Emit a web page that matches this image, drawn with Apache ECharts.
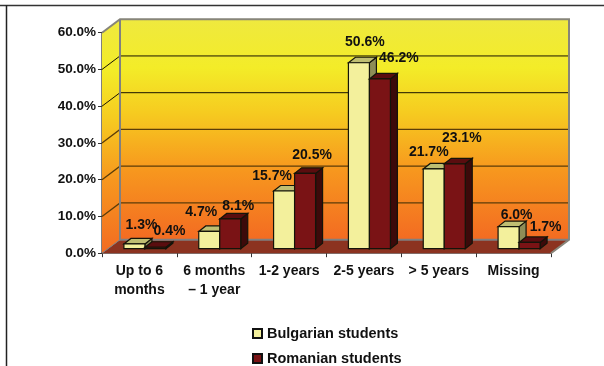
<!DOCTYPE html>
<html>
<head>
<meta charset="utf-8">
<style>html,body{margin:0;padding:0;background:#fff}#c{width:604px;height:366px}</style>
<script src="https://cdn.jsdelivr.net/npm/echarts@6/dist/echarts.min.js"></script>
</head>
<body>
<div id="c"></div>
<script>
const categories = ['Up to 6\nmonths', '6 months\n– 1 year', '1-2 years', '2-5 years', '> 5 years', 'Missing'];
const bulgarian = [1.3, 4.7, 15.7, 50.6, 21.7, 6.0];
const romanian = [0.4, 8.1, 20.5, 46.2, 23.1, 1.7];
const yTicks = [0, 10, 20, 30, 40, 50, 60];

// Hand placement of the value labels relative to each bar's top centre.
const bulgarianLabelShift = [[7, -19], [-8, -19], [-12, -15], [6, -21], [-5, -17], [8, -12]];
const romanianLabelShift = [[14, -16], [8, -13], [7, -18], [19, -21], [7, -26], [16, -15]];

const FONT = '"Liberation Sans", Arial, sans-serif';
const WALL_DX = 18, WALL_DY = -13.5;   // depth of the chart box
const BAR_DX = 5.5, BAR_DY = -4.5;     // bars stand slightly inside the box
const DEPTH_X = 7, DEPTH_Y = -5.5;     // depth of each bar
const BAR_W = 21;

const wallStops = [
  { offset: 0, color: '#EFE93F' }, { offset: 0.22, color: '#F3EC28' },
  { offset: 0.42, color: '#F6CC20' }, { offset: 0.68, color: '#F7981E' },
  { offset: 1, color: '#F36B22' }
];
const wallFill = { type: 'linear', x: 0, y: 0, x2: 0, y2: 1, colorStops: wallStops };

function poly(points, fill, stroke, lineWidth) {
  return { type: 'polygon', shape: { points },
    style: { fill, stroke: stroke || 'none', lineWidth: lineWidth === undefined ? 1 : lineWidth } };
}

// Back wall, side wall, floor and grid lines of the box.
function renderBox(params, api) {
  const size = api.size([1, 0]);
  const bandW = size[0];
  const o = api.coord([0, 0]);
  const x0 = o[0] - bandW / 2;
  const x1 = x0 + bandW * categories.length;
  const y0 = o[1];
  const yTop = api.coord([0, 60])[1];
  const kids = [
    poly([[x0 + WALL_DX, yTop + WALL_DY], [x1 + WALL_DX, yTop + WALL_DY], [x1 + WALL_DX, y0 + WALL_DY], [x0 + WALL_DX, y0 + WALL_DY]], wallFill, null, 0),
    poly([[x0, yTop], [x0 + WALL_DX, yTop + WALL_DY], [x0 + WALL_DX, y0 + WALL_DY], [x0, y0]], wallFill, null, 0),
    poly([[x0, y0], [x1, y0], [x1 + WALL_DX, y0 + WALL_DY], [x0 + WALL_DX, y0 + WALL_DY]], '#8C3320', null, 0)
  ];
  yTicks.forEach(function (t) {
    if (t === 0 || t === 60) return;
    const y = api.coord([0, t])[1];
    kids.push({ type: 'polyline', shape: { points: [[x0, y], [x0 + WALL_DX, y + WALL_DY], [x1 + WALL_DX, y + WALL_DY]] },
      style: { fill: 'none', stroke: t >= 40 ? '#1a1400' : '#5c3d08', lineWidth: t >= 40 ? 1 : 1.3 } });
  });
  kids.push({ type: 'polyline', shape: { points: [[x0, yTop], [x0 + WALL_DX, yTop + WALL_DY], [x1 + WALL_DX, yTop + WALL_DY], [x1 + WALL_DX, y0 + WALL_DY], [x1, y0]] },
    style: { fill: 'none', stroke: '#87857a', lineWidth: 2 } });
  kids.push({ type: 'polyline', shape: { points: [[x0 + WALL_DX, yTop + WALL_DY], [x0 + WALL_DX, y0 + WALL_DY], [x1 + WALL_DX, y0 + WALL_DY]] },
    style: { fill: 'none', stroke: '#808080', lineWidth: 2 } });
  kids.push({ type: 'line', shape: { x1: x0, y1: y0, x2: x0 + WALL_DX, y2: y0 + WALL_DY }, style: { stroke: '#808080', lineWidth: 1 } });
  return { type: 'group', children: kids };
}

// One box-shaped bar; side picks which half of the category pair it occupies.
function barRenderer(side, colors, shifts) {
  return function (params, api) {
    const cat = api.value(0), v = api.value(1);
    const p = api.coord([cat, v]);
    const base = api.coord([cat, 0]);
    const cx = p[0] + BAR_DX + side * BAR_W / 2;
    const l = cx - BAR_W / 2, r = cx + BAR_W / 2;
    const t = p[1] + BAR_DY, b = base[1] + BAR_DY;
    const dx = DEPTH_X, dy = DEPTH_Y;
    const edge = '#14140a';
    const s = shifts[params.dataIndex];
    return { type: 'group', children: [
      poly([[r, t], [r + dx, t + dy], [r + dx, b + dy], [r, b]], colors.side, edge, 1.2),
      poly([[l, t], [l + dx, t + dy], [r + dx, t + dy], [r, t]], colors.top, edge, 1.2),
      poly([[l, t], [r, t], [r, b], [l, b]], colors.front, edge, 1.2),
      { type: 'text', z2: 50, style: { x: cx + s[0], y: t + s[1], text: v.toFixed(1) + '%', align: 'center', verticalAlign: 'middle',
        font: 'bold 14px ' + FONT, fill: '#111' } }
    ] };
  };
}

// Legend rows are separate components so the lower row may sit close to the window edge.
function legendRow(name, top) {
  return {
    orient: 'horizontal', left: 252, top: top, padding: 0, itemWidth: 9, itemHeight: 9, icon: 'rect',
    data: [name],
    textStyle: { fontFamily: FONT, fontWeight: 'bold', fontSize: 14.5, color: '#111' }
  };
}

const chart = echarts.init(document.getElementById('c'), null, { renderer: 'canvas' });
chart.setOption({
  animation: false,
  backgroundColor: '#fff',
  textStyle: { fontFamily: FONT },
  graphic: [
    { type: 'line', shape: { x1: 0, y1: 5.5, x2: 604, y2: 5.5 }, style: { stroke: '#333', lineWidth: 1.5 } },
    { type: 'line', shape: { x1: 6.5, y1: 5, x2: 6.5, y2: 366 }, style: { stroke: '#222', lineWidth: 1.5 } }
  ],
  grid: { left: 102, top: 32.7, width: 449, height: 220.5, containLabel: false },
  legend: [legendRow('Bulgarian students', 326), legendRow('Romanian students', 351)],
  xAxis: {
    type: 'category', data: categories, boundaryGap: true,
    axisLine: { show: true, lineStyle: { color: '#555', width: 1.5 } },
    axisTick: { show: true, length: 4, alignWithLabel: false, lineStyle: { color: '#333' } },
    axisLabel: { interval: 0, margin: 8, fontFamily: FONT, fontWeight: 'bold', fontSize: 14, lineHeight: 19, color: '#111' },
    splitLine: { show: false }
  },
  yAxis: {
    type: 'value', min: 0, max: 60, interval: 10,
    axisLine: { show: true, lineStyle: { color: '#555', width: 1.5 } },
    axisTick: { show: true, length: 4, lineStyle: { color: '#333' } },
    axisLabel: { margin: 6, fontFamily: FONT, fontWeight: 'bold', fontSize: 13.5, color: '#111', formatter: function (v) { return v.toFixed(1) + '%'; } },
    splitLine: { show: false }
  },
  series: [
    { type: 'custom', name: 'box', silent: true, z: 1, data: [[0, 0]], encode: { x: 0, y: 1 }, renderItem: renderBox },
    { type: 'custom', name: 'Bulgarian students', z: 2, itemStyle: { color: '#F3F09C', borderColor: '#111', borderWidth: 1 },
      data: bulgarian.map(function (v, i) { return [i, v]; }), encode: { x: 0, y: 1 },
      renderItem: barRenderer(-1, { front: '#F3F09C', top: '#BFBE72', side: '#8E8D57' }, bulgarianLabelShift) },
    { type: 'custom', name: 'Romanian students', z: 3, itemStyle: { color: '#7A1315', borderColor: '#111', borderWidth: 1 },
      data: romanian.map(function (v, i) { return [i, v]; }), encode: { x: 0, y: 1 },
      renderItem: barRenderer(1, { front: '#7A1315', top: '#5A0D0F', side: '#3C0A0A' }, romanianLabelShift) }
  ]
});
</script>
</body>
</html>
